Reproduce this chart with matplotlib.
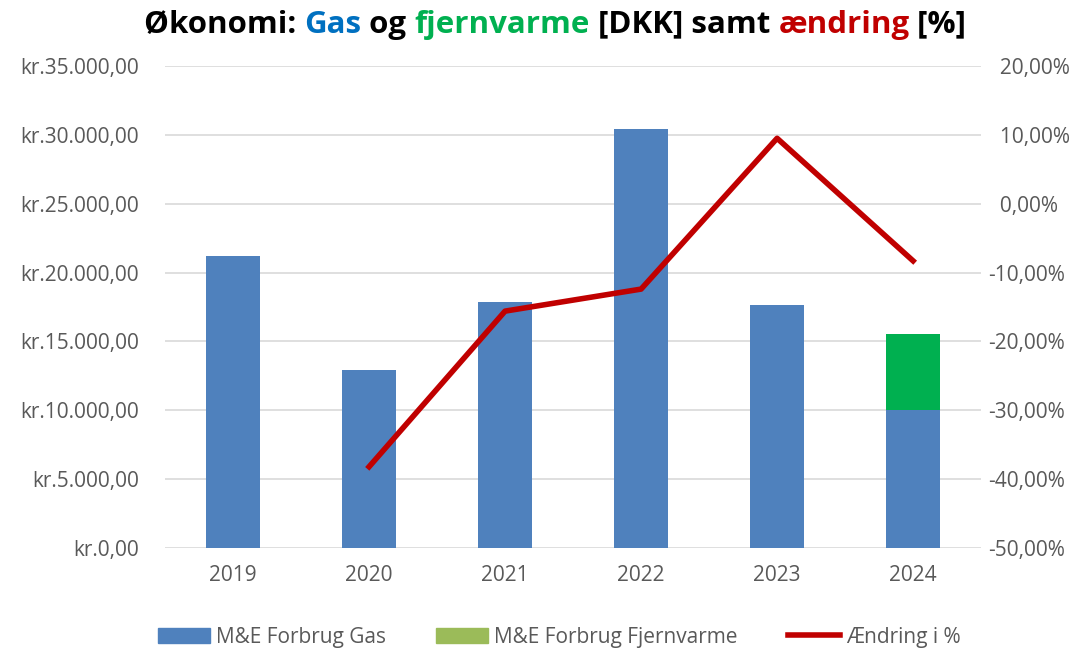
import matplotlib.pyplot as plt
import numpy as np
from matplotlib.patches import Patch
from matplotlib.lines import Line2D
from matplotlib.ticker import FuncFormatter

# data
years = ["2019", "2020", "2021", "2022", "2023", "2024"]
gas = [21200, 12930, 17860, 30430, 17650, 10020]
fjernvarme = [0, 0, 0, 0, 0, 5520]
change_years = ["2020", "2021", "2022", "2023", "2024"]
change_pct = [-38.2, -15.6, -12.4, 9.5, -8.3]

BLUE = "#4F81BD"
GREEN = "#00B050"
LEGEND_GREEN = "#9BBB59"
RED = "#C00000"
GREY = "#595959"

plt.rcParams['font.family'] = ['Open Sans', 'DejaVu Sans']


def kr_fmt(v, pos):
    s = f"{v:,.2f}".replace(",", "X").replace(".", ",").replace("X", ".")
    return "kr." + s


def pct_fmt(v, pos):
    s = f"{v:.2f}%".replace(".", ",")
    if v >= 0:
        s = "\u2007" + s  # Excel leaves room for the minus sign
    return s


def main():
    fig = plt.figure(figsize=(10.86, 6.52), dpi=100)
    ax = fig.add_axes([0.152, 0.1595, 0.7514, 0.7393])
    x = np.arange(len(years))

    ax.bar(x, gas, width=0.4, color=BLUE, zorder=2)
    ax.bar(x, fjernvarme, width=0.4, bottom=gas, color=GREEN, zorder=2)
    ax.set_xlim(-0.5, len(years) - 0.5)
    ax.set_ylim(0, 35000)
    ax.set_yticks(np.arange(0, 35001, 5000))
    ax.yaxis.set_major_formatter(FuncFormatter(kr_fmt))
    ax.set_xticks(x)
    ax.set_xticklabels(years)
    ax.grid(axis='y', color="#D9D9D9", lw=1.2, zorder=0)
    ax.set_axisbelow(True)
    for s in ax.spines.values():
        s.set_visible(False)
    ax.tick_params(length=0, labelsize=15, colors=GREY)
    ax.tick_params(axis='y', pad=19)
    ax.tick_params(axis='x', pad=12)

    ax2 = ax.twinx()
    xc = [years.index(y) for y in change_years]
    ax2.plot(xc, change_pct, color=RED, lw=4, zorder=3)
    ax2.set_ylim(-50, 20)
    ax2.set_yticks(np.arange(-50, 21, 10))
    ax2.yaxis.set_major_formatter(FuncFormatter(pct_fmt))
    for s in ax2.spines.values():
        s.set_visible(False)
    ax2.tick_params(length=0, labelsize=15, colors=GREY, pad=5)

    # title with coloured words
    parts = [("Økonomi: ", "black"), ("Gas", "#0070C0"), (" og ", "black"),
             ("fjernvarme", GREEN), (" [DKK] samt ", "black"),
             ("ændring", RED), (" [%]", "black")]
    texts = [fig.text(0, 0.962, p, color=c, fontsize=22.5, fontweight='bold',
                      va='center', ha='left') for p, c in parts]
    fig.canvas.draw()
    r = fig.canvas.get_renderer()
    widths = [t.get_window_extent(r).width for t in texts]
    total = sum(widths)
    start = 555 - total / 2
    for t, w in zip(texts, widths):
        t.set_x(start / 1086)
        start += w

    handles = [Patch(color=BLUE), Patch(color=LEGEND_GREEN),
               Line2D([0], [0], color=RED, lw=4)]
    labels = ["M&E Forbrug Gas", "M&E Forbrug Fjernvarme", "Ændring i %"]
    fig.legend(handles, labels, loc='lower center', bbox_to_anchor=(0.515, -0.022),
               ncol=3, frameon=False, fontsize=15, labelcolor=GREY,
               handlelength=2.5, handletextpad=0.3, columnspacing=2.4)

    fig.savefig("out.png", dpi=100)


if __name__ == "__main__":
    main()
